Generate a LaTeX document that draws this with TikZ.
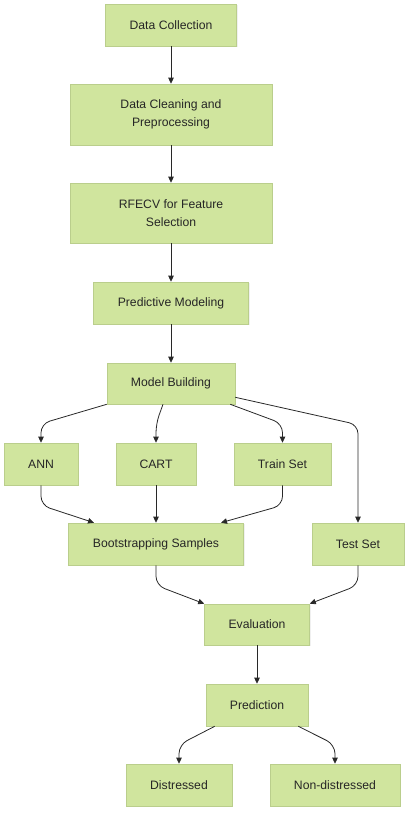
\documentclass[tikz,border=0pt]{standalone}
\usepackage{fontspec}
\setmainfont{Liberation Sans}
\usepackage{xcolor}
\usepackage{tikz}
\usetikzlibrary{arrows.meta,shapes,positioning,shadows,calc}

\definecolor{boxfill}{RGB}{208,229,158}
\definecolor{boxline}{RGB}{186,206,140}
\definecolor{linkcol}{RGB}{40,40,40}

\tikzset{
  stepbox/.style={rectangle, draw=boxline, fill=boxfill, line width=0.6pt,
    text=black!85, align=center, inner sep=2pt,
    font=\fontsize{12.2}{18.5}\selectfont,
    drop shadow={opacity=0.12, shadow xshift=1pt, shadow yshift=-1pt}},
  link/.style={draw=linkcol, line width=0.8pt, rounded corners=9pt,
    -{Triangle[length=6pt,width=5.5pt]}}
}

\begin{document}
\begin{tikzpicture}[x=1pt, y=-1pt]
\useasboundingbox (0,0) rectangle (410,814);

% Main chain
\node[stepbox, minimum width=131pt, minimum height=42pt] (collect) at (171,25) {Data Collection};
\node[stepbox, minimum width=202pt, minimum height=61pt] (clean) at (171,114.5) {Data Cleaning and\\Preprocessing};
\node[stepbox, minimum width=202pt, minimum height=60pt] (rfecv) at (171,213) {RFECV for Feature\\Selection};
\node[stepbox, minimum width=155pt, minimum height=42pt] (predmod) at (171,303) {Predictive Modeling};
\node[stepbox, minimum width=128pt, minimum height=41pt] (mb) at (171,383.5) {Model Building};

% Branches
\node[stepbox, minimum width=74pt, minimum height=42pt] (ann) at (41,464) {ANN};
\node[stepbox, minimum width=80pt, minimum height=42pt] (cart) at (156,464) {CART};
\node[stepbox, minimum width=97pt, minimum height=42pt] (train) at (282.5,464) {Train Set};
\node[stepbox, minimum width=175pt, minimum height=42pt] (boot) at (156,544) {Bootstrapping Samples};
\node[stepbox, minimum width=92pt, minimum height=42pt] (test) at (358,544) {Test Set};

% Results
\node[stepbox, minimum width=105pt, minimum height=41pt] (eval) at (257,624.5) {Evaluation};
\node[stepbox, minimum width=102pt, minimum height=42pt] (pred) at (257,705) {Prediction};
\node[stepbox, minimum width=106pt, minimum height=42pt] (dis) at (179,785) {Distressed};
\node[stepbox, minimum width=130pt, minimum height=42pt] (nondis) at (335,785) {Non-distressed};

% Links
\draw[link] (collect) -- (clean);
\draw[link] (clean) -- (rfecv);
\draw[link] (rfecv) -- (predmod);
\draw[link] (predmod) -- (mb);

\draw[link] (mb.south west) -- ([yshift=19pt]ann.north) -- (ann.north);
\draw[link] ([xshift=-8pt]mb.south) -- ([yshift=19pt]cart.north) -- (cart.north);
\draw[link] ([xshift=-5pt]mb.south east) -- ([yshift=19pt]train.north) -- (train.north);
\draw[link] ([yshift=7pt]mb.south east) -- ([yshift=98pt]test.north) -- (test.north);

\draw[link] (ann.south) -- ([yshift=-20pt]ann.south) -- ([xshift=-62pt]boot.north);
\draw[link] (cart) -- (boot);
\draw[link] (train.south) -- ([yshift=-20pt]train.south) -- ([xshift=65pt]boot.north);

\draw[link] (boot.south) -- ([yshift=-20pt]boot.south) -- (eval.north west);
\draw[link] (test.south) -- ([yshift=-20pt]test.south) -- (eval.north east);
\draw[link] (eval) -- (pred);

\draw[link] ([xshift=9pt]pred.south west) -- ([yshift=19pt]dis.north) -- (dis.north);
\draw[link] ([xshift=-10pt]pred.south east) -- ([yshift=19pt]nondis.north) -- (nondis.north);

\end{tikzpicture}
\end{document}
